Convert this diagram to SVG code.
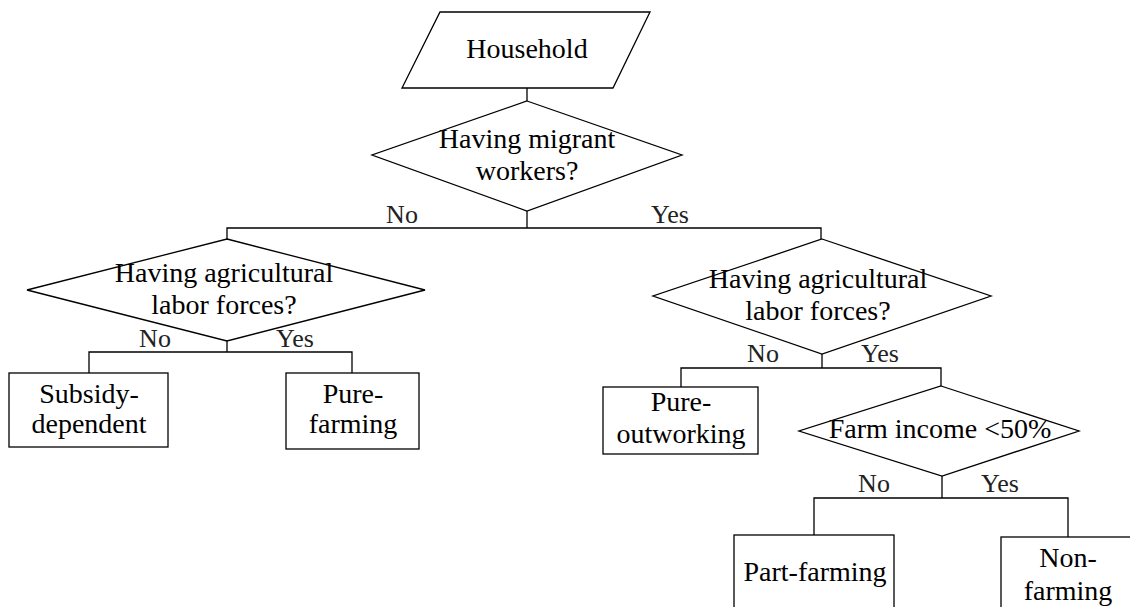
<svg xmlns="http://www.w3.org/2000/svg" width="1130" height="607" viewBox="0 0 1130 607">
<style>
.shape{fill:#fff;stroke:#000;stroke-width:1.3}
.t{font-family:"Liberation Serif","Times New Roman",serif;font-size:28px;fill:#000;text-anchor:middle}
.lbl{font-family:"Liberation Serif","Times New Roman",serif;font-size:26px;fill:#222;text-anchor:middle}
.conn{fill:none;stroke:#000;stroke-width:1.3}
</style>
<rect width="1130" height="607" fill="#fff"/>
<g id="connectors">
<polyline class="conn" points="527,88 527,101"/>
<polyline class="conn" points="527,211 527,228"/>
<polyline class="conn" points="227,239 227,228 821,228 821,239"/>
<polyline class="conn" points="227,341 227,352"/>
<polyline class="conn" points="89,373 89,352 352,352 352,373"/>
<polyline class="conn" points="822,354 822,368"/>
<polyline class="conn" points="681,387 681,368 941,368 941,386"/>
<polyline class="conn" points="942,476 942,498"/>
<polyline class="conn" points="814,535 814,498 1068,498 1068,537"/>
<text class="lbl" x="402" y="223">No</text>
<text class="lbl" x="670" y="223">Yes</text>
<text class="lbl" x="155" y="347">No</text>
<text class="lbl" x="295" y="347">Yes</text>
<text class="lbl" x="763" y="362">No</text>
<text class="lbl" x="880" y="362">Yes</text>
<text class="lbl" x="874" y="492">No</text>
<text class="lbl" x="1000" y="492">Yes</text>
</g>
<g id="household">
<polygon class="shape" points="440,12 650,12 613,88 402,88"/>
<text class="t" x="527" y="58">Household</text>
</g>
<g id="q-migrant">
<polygon class="shape" points="527,101 682,155 527,211 372,155"/>
<text class="t" x="527" y="148">Having migrant</text>
<text class="t" x="527" y="180">workers?</text>
</g>
<g id="q-labor-left">
<polygon class="shape" points="227,239 425,290 227,341 27,290"/>
<text class="t" x="224" y="282">Having agricultural</text>
<text class="t" x="224" y="314">labor forces?</text>
</g>
<g id="q-labor-right">
<polygon class="shape" points="822,239 991,296 822,354 653,296"/>
<text class="t" x="818" y="288">Having agricultural</text>
<text class="t" x="818" y="320">labor forces?</text>
</g>
<g id="subsidy-dependent">
<rect class="shape" x="9" y="373" width="159" height="74"/>
<text class="t" x="89" y="403">Subsidy-</text>
<text class="t" x="89" y="433">dependent</text>
</g>
<g id="pure-farming">
<rect class="shape" x="286" y="373" width="133" height="76"/>
<text class="t" x="353" y="403">Pure-</text>
<text class="t" x="353" y="433">farming</text>
</g>
<g id="pure-outworking">
<rect class="shape" x="603" y="387" width="155" height="67"/>
<text class="t" x="681" y="411">Pure-</text>
<text class="t" x="681" y="443">outworking</text>
</g>
<g id="q-farm-income">
<polygon class="shape" points="941,386 1079,431 942,476 799,431"/>
<text class="t" x="940" y="438">Farm income &lt;50%</text>
</g>
<g id="part-farming">
<rect class="shape" x="734" y="535" width="160" height="90"/>
<text class="t" x="815" y="581">Part-farming</text>
</g>
<g id="non-farming">
<rect class="shape" x="1001" y="537" width="136" height="90"/>
<text class="t" x="1068" y="567">Non-</text>
<text class="t" x="1068" y="600">farming</text>
</g>
</svg>
